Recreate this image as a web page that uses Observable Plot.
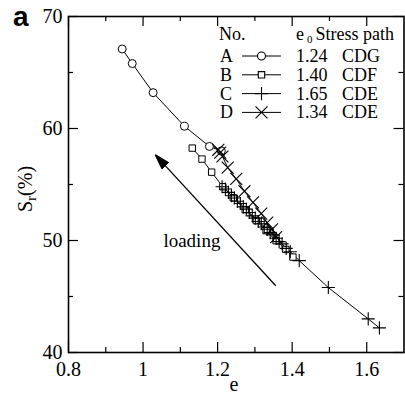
<!DOCTYPE html>
<html><head><meta charset="utf-8">
<script src="https://cdn.jsdelivr.net/npm/d3@7"></script>
<script src="https://cdn.jsdelivr.net/npm/@observablehq/plot@0.6"></script>
<style>html,body{margin:0;padding:0;background:#fff}</style>
</head><body><div id="chart"></div>
<script>
// ---- data ----
const eA  = [0.944, 0.971, 1.027, 1.111, 1.178, 1.210];
const srA = [67.1, 65.8, 63.2, 60.2, 58.4, 58.0];

const eB  = [1.132, 1.158, 1.184, 1.214, 1.242, 1.274, 1.304, 1.330, 1.357, 1.383, 1.402];
const srB = [58.25, 57.27, 56.10, 54.80, 53.82, 52.75, 51.77, 50.88, 49.98, 49.20, 48.52];

const eC  = [1.634, 1.604, 1.497, 1.419, 1.395, 1.384, 1.373, 1.365, 1.357, 1.349, 1.341, 1.333, 1.325, 1.317, 1.309, 1.301, 1.293, 1.285, 1.277, 1.269, 1.261, 1.253, 1.245, 1.237, 1.229, 1.221, 1.212];
const srC = [42.2, 43.0, 45.8, 48.2, 49.0, 49.3, 49.7, 49.9, 50.2, 50.5, 50.7, 51.0, 51.2, 51.5, 51.7, 52.0, 52.2, 52.5, 52.8, 53.0, 53.3, 53.5, 53.8, 54.0, 54.3, 54.6, 54.8];

const eD  = [1.357, 1.346, 1.333, 1.317, 1.295, 1.272, 1.250, 1.227, 1.213, 1.207, 1.202];
const srD = [50.3, 51.0, 51.6, 52.4, 53.4, 54.4, 55.5, 56.5, 57.5, 57.85, 58.1];

const seriesNames = ["A", "B", "C", "D"];
const e0Values    = ["1.24", "1.40", "1.65", "1.34"];
const stressPaths = ["CDG", "CDF", "CDE", "CDE"];
const seriesSymbols = ["circle", "square", "plus", "times"];

const xTicks = [0.8, 1, 1.2, 1.4, 1.6];
const xMinor = [0.9, 1.1, 1.3, 1.5];
const yTicks = [40, 50, 60, 70];
const yMinor = [45, 55, 65];

const arrowFrom = {e: 1.356, sr: 45.96};
const arrowTo   = {e: 1.033, sr: 57.64};
const loadingLabel = {text: "loading", e: 1.131, sr: 50.0};

// ---- build table ----
const seriesE  = [eA, eB, eC, eD];
const seriesSr = [srA, srB, srC, srD];
const rows = [];
seriesNames.forEach((s, i) => seriesE[i].forEach((e, j) => rows.push({series: s, e, sr: seriesSr[i][j]})));
const sub = s => rows.filter(d => d.series === s);

const serif = '"Liberation Serif", "Times New Roman", Tinos, Times, "DejaVu Serif", serif';

const W = 405, H = 395, ML = 68, MR = 1.5, MT = 16, MB = 43;
const innerW = W - ML - MR, innerH = H - MT - MB;

function filledArrow(color, ctx) {
  const doc = (ctx && ctx.document) ? ctx.document : document;
  const ns = "http://www.w3.org/2000/svg";
  const m = doc.createElementNS(ns, "marker");
  m.setAttribute("viewBox", "-15 -5 16 10");
  m.setAttribute("markerWidth", 16);
  m.setAttribute("markerHeight", 10);
  m.setAttribute("markerUnits", "userSpaceOnUse");
  m.setAttribute("refX", 0);
  m.setAttribute("refY", 0);
  m.setAttribute("orient", "auto");
  const p = doc.createElementNS(ns, "path");
  p.setAttribute("d", "M-15,-4.5L0,0L-15,4.5Z");
  p.setAttribute("fill", "black");
  m.appendChild(p);
  return m;
}

const tk = {stroke: "black", strokeWidth: 1.2};
function build(markerEnd) {
  return Plot.plot({
    width: W, height: H,
    marginLeft: ML, marginRight: MR, marginTop: MT, marginBottom: MB,
    style: {fontFamily: serif, fontSize: "20px", background: "white", color: "black", overflow: "visible"},
    x: {domain: [0.8, 1.7]},
    y: {domain: [40, 70]},
    marks: [
      Plot.axisX({anchor: "bottom", ticks: xTicks, tickSize: 0, tickPadding: 9, tickFormat: d => String(+d.toFixed(1)), label: null}),
      Plot.axisY({anchor: "left", ticks: yTicks, tickSize: 0, tickPadding: 6, tickFormat: d => String(d), label: null}),
      // inward ticks on all four sides
      Plot.tickX(xTicks, {x: d => d, insetTop: innerH - 10, ...tk}),
      Plot.tickX(xMinor, {x: d => d, insetTop: innerH - 5, ...tk}),
      Plot.tickX(xTicks, {x: d => d, insetBottom: innerH - 10, ...tk}),
      Plot.tickX(xMinor, {x: d => d, insetBottom: innerH - 5, ...tk}),
      Plot.tickY(yTicks, {y: d => d, insetRight: innerW - 10, ...tk}),
      Plot.tickY(yMinor, {y: d => d, insetRight: innerW - 5, ...tk}),
      Plot.tickY(yTicks, {y: d => d, insetLeft: innerW - 10, ...tk}),
      Plot.tickY(yMinor, {y: d => d, insetLeft: innerW - 5, ...tk}),
      Plot.frame({stroke: "black", strokeWidth: 1.6}),
      // series lines
      Plot.line(rows, {x: "e", y: "sr", z: "series", stroke: "black", strokeWidth: 1}),
      // markers
      Plot.dot(sub("A"), {x: "e", y: "sr", symbol: "circle", r: 4, fill: "white", stroke: "black", strokeWidth: 1}),
      Plot.dot(sub("B"), {x: "e", y: "sr", symbol: "square", r: 3.6, fill: "white", stroke: "black", strokeWidth: 1}),
      Plot.dot(sub("C"), {x: "e", y: "sr", symbol: "plus", r: 4.3, fill: "none", stroke: "black", strokeWidth: 1.1}),
      Plot.dot(sub("D"), {x: "e", y: "sr", symbol: "times", r: 5.5, fill: "none", stroke: "black", strokeWidth: 1.1}),
      // loading arrow + label
      Plot.link([{}], {x1: () => arrowFrom.e, y1: () => arrowFrom.sr, x2: () => arrowTo.e, y2: () => arrowTo.sr, stroke: "black", strokeWidth: 1.3, markerEnd}),
      Plot.text([loadingLabel], {x: "e", y: "sr", text: "text", fontSize: 19, fontFamily: serif, textAnchor: "middle", fill: "black"})
    ]
  });
}

let svg;
try { svg = build(filledArrow); } catch (err) { console.error(err); svg = build("arrow"); }
document.getElementById("chart").appendChild(svg);

// ---- annotations: panel letter, axis labels, legend ----
const s = d3.select(svg);
s.append("text").attr("x", 13).attr("y", 26).attr("text-anchor", "start")
  .attr("font-family", '"Liberation Sans", Arial, sans-serif').attr("font-weight", "bold")
  .attr("font-size", 28).attr("fill", "black").text("a");

s.append("text").attr("x", 234).attr("y", 391).attr("text-anchor", "middle")
  .attr("font-family", serif).attr("font-size", 20).attr("fill", "black").text("e");

const yl = s.append("text").attr("transform", "translate(32,189) rotate(-90)").attr("text-anchor", "middle")
  .attr("font-family", serif).attr("font-size", 20).attr("fill", "black");
yl.append("tspan").text("S");
yl.append("tspan").attr("font-size", 15).attr("dy", 4).text("r");
yl.append("tspan").attr("dy", -4).text("(%)");

const lg = s.append("g").attr("font-family", serif).attr("font-size", 18).attr("fill", "black").attr("text-anchor", "start");
lg.append("text").attr("x", 219).attr("y", 40).text("No.");
const h = lg.append("text").attr("x", 296).attr("y", 40);
h.append("tspan").text("e");
h.append("tspan").attr("font-size", 11).attr("dx", 3).attr("dy", 3).text("0");
h.append("tspan").attr("dy", -3).attr("dx", 3).text("Stress path");

const symMap = {circle: d3.symbolCircle, square: d3.symbolSquare, plus: d3.symbolPlus, times: d3.symbolTimes};
const symR = [4, 3.6, 4.3, 5.5];
const symFill = ["white", "white", "none", "none"];
seriesNames.forEach((name, i) => {
  const yb = 62 + i * 18.8;
  const ym = yb - 6;
  lg.append("text").attr("x", 220).attr("y", yb).text(name);
  lg.append("line").attr("x1", 242).attr("x2", 281).attr("y1", ym).attr("y2", ym).attr("stroke", "black").attr("stroke-width", 1);
  lg.append("path").attr("transform", `translate(261.5,${ym})`)
    .attr("d", d3.symbol(symMap[seriesSymbols[i]], symR[i] * symR[i] * Math.PI)())
    .attr("fill", symFill[i]).attr("stroke", "black").attr("stroke-width", 1.1);
  lg.append("text").attr("x", 296).attr("y", yb).text(e0Values[i]);
  lg.append("text").attr("x", 342).attr("y", yb).text(stressPaths[i]);
});
</script>
</body></html>
